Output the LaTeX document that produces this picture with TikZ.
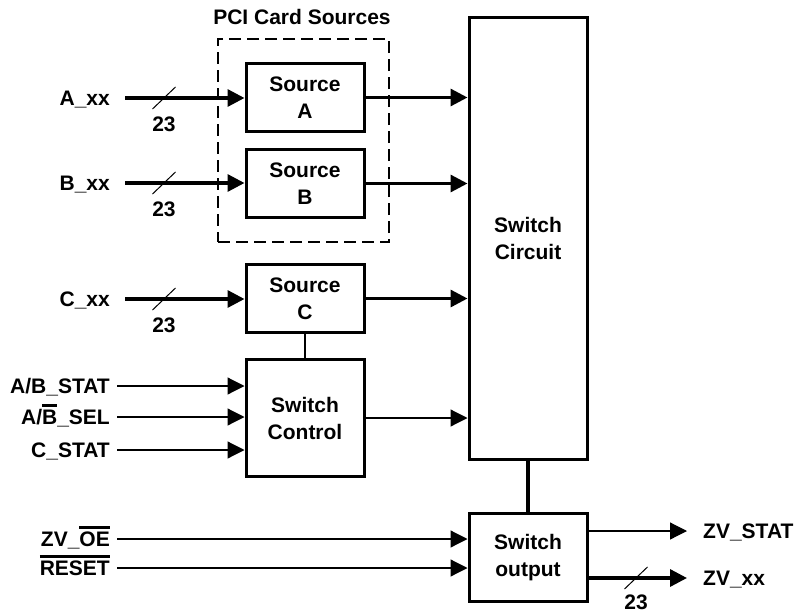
\documentclass[tikz,border=0pt]{standalone}
\usepackage{fontspec}
\setmainfont{Liberation Sans}
\usetikzlibrary{arrows.meta,calc}

\newcommand{\sigfont}{\fontsize{21}{27}\selectfont\bfseries}
\newcommand{\ovl}[1]{\vbox{\hrule height 2.6pt\kern 3pt\hbox{#1}}}
% bus width mark: slash across the line and the width below it
\newcommand{\busmark}[3][26]{%
  \coordinate (#2) at (#3);
  \draw[line width=1pt] ($(#2)+(-11.5,11)$) -- ($(#2)+(11.5,-11)$);
  \node[font=\sigfont,inner sep=0pt] (#2w) at ($(#2)+(0,#1)$) {23};}

\begin{document}
\begin{tikzpicture}[x=1pt,y=-1pt,
    block/.style={draw,line width=3pt,minimum width=118pt,align=center,font=\sigfont},
    sig/.style={anchor=east,inner sep=0pt,text height=15pt,text depth=0pt,font=\sigfont},
    bus/.style={line width=3.3pt,-{Triangle[length=17pt,width=17pt]}},
    wire/.style={line width=1.2pt,-{Triangle[length=17pt,width=17pt]}},
    link/.style={line width=1.2pt}]
  \useasboundingbox (0,0) rectangle (798,613);

  % PCI card group
  \node[draw,line width=1.5pt,dash pattern=on 12pt off 6pt,minimum width=171pt,minimum height=203pt] (pci) at (303.5,140.5) {};
  \node[font=\sigfont,inner sep=0pt] (pcilbl) at (302,17) {PCI Card Sources};

  % blocks
  \node[block,minimum height=68pt] (srcA) at (305,97.5) {Source\\A};
  \node[block,minimum height=68pt] (srcB) at (305,183.5) {Source\\B};
  \node[block,minimum height=68pt] (srcC) at (305,298.5) {Source\\C};
  \node[block,minimum height=117pt] (ctrl) at (305,418) {Switch\\Control};
  \node[block,minimum height=442pt] (swc) at (528,238.5) {Switch\\Circuit};
  \node[block,minimum height=88pt] (swo) at (528,557.5) {Switch\\output};

  % signal names
  \node[sig] (axx) at (110,98) {A\_xx};
  \node[sig] (bxx) at (110,183) {B\_xx};
  \node[sig] (cxx) at (110,299) {C\_xx};
  \node[sig] (abstat) at (110,386) {A/B\_STAT};
  \node[sig] (absel) at (110,417) {A/\ovl{B}\_SEL};
  \node[sig] (cstat) at (110,450) {C\_STAT};
  \node[sig] (zvoe) at (110,539) {ZV\_\ovl{OE}};
  \node[sig] (rst) at (110,568) {\ovl{RESET}};
  \node[sig,anchor=west] (zvstat) at (703,531) {ZV\_STAT};
  \node[sig,anchor=west] (zvxx) at (703,578) {ZV\_xx};

  % inputs
  \draw[bus] ([xshift=15pt]axx.east) -- (axx.east -| srcA.west);
  \draw[bus] ([xshift=15pt]bxx.east) -- (bxx.east -| srcB.west);
  \draw[bus] ([xshift=15pt]cxx.east) -- (cxx.east -| srcC.west);
  \busmark{busA}{164,98}
  \busmark{busB}{164,183}
  \busmark{busC}{164,299}
  \draw[wire] ([xshift=7pt]abstat.east) -- (abstat.east -| ctrl.west);
  \draw[wire] ([xshift=7pt]absel.east) -- (absel.east -| ctrl.west);
  \draw[wire] ([xshift=7pt]cstat.east) -- (cstat.east -| ctrl.west);
  \draw[wire] ([xshift=7pt]zvoe.east) -- (zvoe.east -| swo.west);
  \draw[wire] ([xshift=7pt]rst.east) -- (rst.east -| swo.west);

  % into the switch circuit
  \draw[bus] (srcA.east) -- (srcA.east -| swc.west);
  \draw[bus] (srcB.east) -- (srcB.east -| swc.west);
  \draw[bus] (srcC.east) -- (srcC.east -| swc.west);
  \draw[link] (srcC.south) -- (ctrl.north);
  \draw[wire] (ctrl.east) -- (ctrl.east -| swc.west);
  \draw[line width=3.3pt] (swc.south) -- (swo.north);

  % outputs
  \draw[wire] (swo.east |- zvstat.west) -- ([xshift=-16pt]zvstat.west);
  \draw[bus] (swo.east |- zvxx.west) -- ([xshift=-16pt]zvxx.west);
  \busmark[24]{busZ}{636,578}
\end{tikzpicture}
\end{document}
